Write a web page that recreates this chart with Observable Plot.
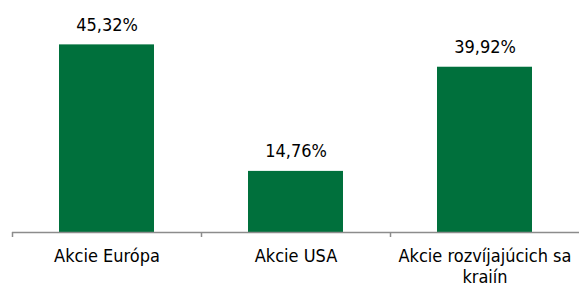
<!DOCTYPE html>
<html>
<head>
<meta charset="utf-8">
<script src="https://cdn.jsdelivr.net/npm/d3@7"></script>
<script src="https://cdn.jsdelivr.net/npm/@observablehq/plot@0.6"></script>
<style>
  html, body { margin: 0; padding: 0; background: #fff; }
  svg { font-family: "DejaVu Sans Condensed", "Liberation Sans", sans-serif; font-stretch: condensed; }
</style>
</head>
<body>
<div id="chart"></div>
<script>
const categories = ["Akcie Európa", "Akcie USA", "Akcie rozvíjajúcich sa kraiín"];
const values = [45.32, 14.76, 39.92];

const data = categories.map((c, i) => ({category: c, value: values[i]}));

const W = 579, H = 286, mL = 12, mR = 0;
const step = (W - mL - mR) / categories.length;
const fmt = v => v.toFixed(2).replace(".", ",") + "%";

const chart = Plot.plot({
  width: W,
  height: H,
  marginLeft: mL,
  marginRight: mR,
  marginTop: 25,
  marginBottom: 54,
  style: {fontSize: "18px", color: "#000", background: "#fff"},
  x: {domain: categories, paddingInner: 0.5, paddingOuter: 0.25, axis: null, label: null},
  y: {domain: [0, 50], axis: null},
  marks: [
    Plot.barY(data, {x: "category", y: "value", fill: "#00703c"}),
    Plot.text(data, {x: "category", y: "value", text: d => fmt(d.value), lineAnchor: "bottom", dy: -14, fontSize: 18, fill: "#000"}),
    Plot.ruleY([0], {stroke: "#8c8c8c", strokeWidth: 1.5}),
    Plot.ruleX(categories, {x: d => d, y1: 0, y2: 0, insetBottom: -5, dx: -step / 2, stroke: "#8c8c8c", strokeWidth: 1.5}),
    Plot.axisX({tickSize: 0, tickPadding: 15, fontSize: 18, lineWidth: 11, fill: "#000", lineHeight: 1.15, label: null})
  ]
});
document.getElementById("chart").appendChild(chart);
</script>
</body>
</html>
